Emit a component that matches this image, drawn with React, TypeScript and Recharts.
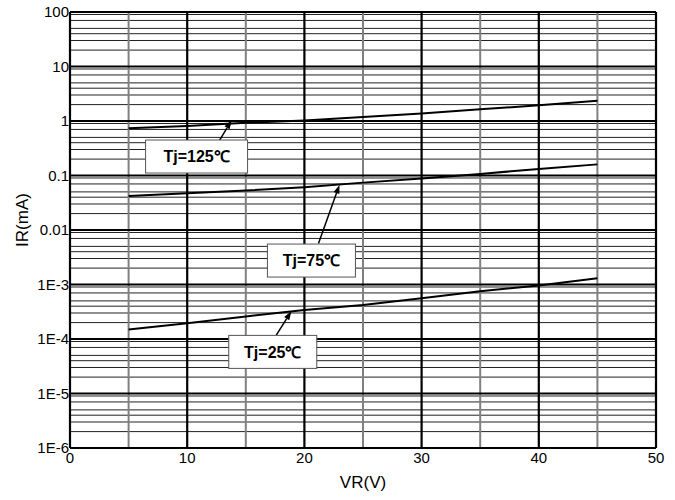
import React from "react";
import { LineChart, Line, XAxis, YAxis, CartesianGrid, ReferenceLine, ReferenceDot, Label } from "recharts";

// reverse current vs reverse voltage, three junction temperatures
const VR = [5, 10, 15, 20, 25, 30, 35, 40, 45];
const IR_125 = [0.74, 0.81, 0.93, 1.02, 1.18, 1.38, 1.64, 1.94, 2.36];
const IR_75 = [0.042, 0.047, 0.053, 0.061, 0.074, 0.088, 0.107, 0.132, 0.16];
const IR_25 = [1.5e-4, 1.95e-4, 2.6e-4, 3.4e-4, 4.2e-4, 5.6e-4, 7.5e-4, 9.6e-4, 1.3e-3];

const X_TICKS = [0, 10, 20, 30, 40, 50];
const X_MINOR = [5, 15, 25, 35, 45];
const Y_TICKS = [1e-6, 1e-5, 1e-4, 1e-3, 0.01, 0.1, 1, 10, 100];
const Y_TICK_LABELS = ["1E-6", "1E-5", "1E-4", "1E-3", "0.01", "0.1", "1", "10", "100"];

// minor log grid: 2..9 in every decade
const Y_MINOR = Y_TICKS.slice(0, -1).flatMap((d) => [2, 3, 4, 5, 6, 7, 8, 9].map((m) => d * m));

// callouts: text, box anchor, arrow tail, arrow tip (in data units)
const CALLOUTS = [
    { text: "Tj=125℃", w: 102, at: [10.8, 0.223], tail: [12.3, 0.306], tip: [13.8, 1.04] },
    { text: "Tj=75℃", w: 88, at: [20.6, 0.00275], tail: [21.2, 0.00565], tip: [23.0, 0.068] },
    { text: "Tj=25℃", w: 88, at: [17.3, 5.8e-5], tail: [17.6, 1.18e-4], tip: [18.9, 3.27e-4] },
];

const FONT = "'Liberation Sans', Arial, sans-serif";

if (typeof document !== "undefined") document.body.style.margin = "0";

const data = VR.map((v, i) => ({ vr: v, t125: IR_125[i], t75: IR_75[i], t25: IR_25[i] }));

function Arrow(props: any) {
    const { x1, y1, x2, y2 } = props;
    const ang = Math.atan2(y2 - y1, x2 - x1);
    const len = 9;
    const half = 3;
    const bx = x2 - len * Math.cos(ang);
    const by = y2 - len * Math.sin(ang);
    const px = -Math.sin(ang) * half;
    const py = Math.cos(ang) * half;
    return (
        <g>
            <line x1={x1} y1={y1} x2={bx} y2={by} stroke="#000" strokeWidth={1.5} />
            <polygon points={`${x2},${y2} ${bx + px},${by + py} ${bx - px},${by - py}`} fill="#000" />
        </g>
    );
}

const boxShape = (text: string, w: number) => (props: any) => {
    const { cx, cy } = props;
    const h = 33;
    return (
        <g>
            <rect x={cx - w / 2} y={cy - h / 2} width={w} height={h} fill="#fff" stroke="#555" strokeWidth={1} />
            <text x={cx} y={cy} dy="0.36em" textAnchor="middle" fontFamily={FONT} fontWeight="bold" fontSize={16} fill="#000">
                {text}
            </text>
        </g>
    );
};

export default function App() {
    return (
        <LineChart width={675} height={500} data={data} margin={{ top: 12, right: 19, left: 0, bottom: 0 }}>
            <CartesianGrid horizontalValues={Y_MINOR} vertical={false} stroke="#222" strokeWidth={1} />
            <CartesianGrid verticalValues={X_MINOR} horizontal={false} stroke="#808080" strokeWidth={2} />
            <CartesianGrid horizontalValues={Y_TICKS} verticalValues={X_TICKS} stroke="#000" strokeWidth={2.2} />
            <XAxis
                dataKey="vr"
                type="number"
                domain={[0, 50]}
                ticks={X_TICKS}
                allowDataOverflow
                height={52}
                tickSize={0}
                tickMargin={4}
                axisLine={{ stroke: "#000", strokeWidth: 2 }}
                tick={{ fill: "#000", fontSize: 15, fontFamily: FONT }}
            >
                <Label value="VR(V)" position="insideBottom" offset={12} style={{ fontSize: 17, fontFamily: FONT, fill: "#000" }} />
            </XAxis>
            <YAxis
                scale="log"
                domain={[1e-6, 100]}
                ticks={Y_TICKS}
                allowDataOverflow
                width={70}
                tickSize={0}
                tickMargin={1}
                axisLine={{ stroke: "#000", strokeWidth: 2 }}
                tickFormatter={(v: number) => Y_TICK_LABELS[Y_TICKS.findIndex((t) => Math.abs(Math.log10(t) - Math.log10(v)) < 1e-6)] ?? ""}
                tick={{ fill: "#000", fontSize: 15, fontFamily: FONT }}
            >
                <Label
                    content={(p: any) => {
                        const vb = p.viewBox;
                        const x = 22;
                        const y = vb.y + vb.height / 2 - 10;
                        return (
                            <text x={x} y={y} transform={`rotate(-90 ${x} ${y})`} textAnchor="middle" dy="0.36em" fontFamily={FONT} fontSize={17} fill="#000">
                                IR(mA)
                            </text>
                        );
                    }}
                />
            </YAxis>
            <ReferenceLine x={50} stroke="#000" strokeWidth={2} />
            <ReferenceLine y={100} stroke="#000" strokeWidth={2} />
            <Line dataKey="t125" stroke="#000" strokeWidth={2} dot={false} isAnimationActive={false} />
            <Line dataKey="t75" stroke="#000" strokeWidth={2} dot={false} isAnimationActive={false} />
            <Line dataKey="t25" stroke="#000" strokeWidth={2} dot={false} isAnimationActive={false} />
            {CALLOUTS.map((c) => (
                <ReferenceLine
                    key={c.text + "a"}
                    segment={[
                        { x: c.tail[0], y: c.tail[1] },
                        { x: c.tip[0], y: c.tip[1] },
                    ]}
                    shape={Arrow}
                />
            ))}
            {CALLOUTS.map((c) => (
                <ReferenceDot key={c.text} x={c.at[0]} y={c.at[1]} r={1} shape={boxShape(c.text, c.w)} />
            ))}
        </LineChart>
    );
}
